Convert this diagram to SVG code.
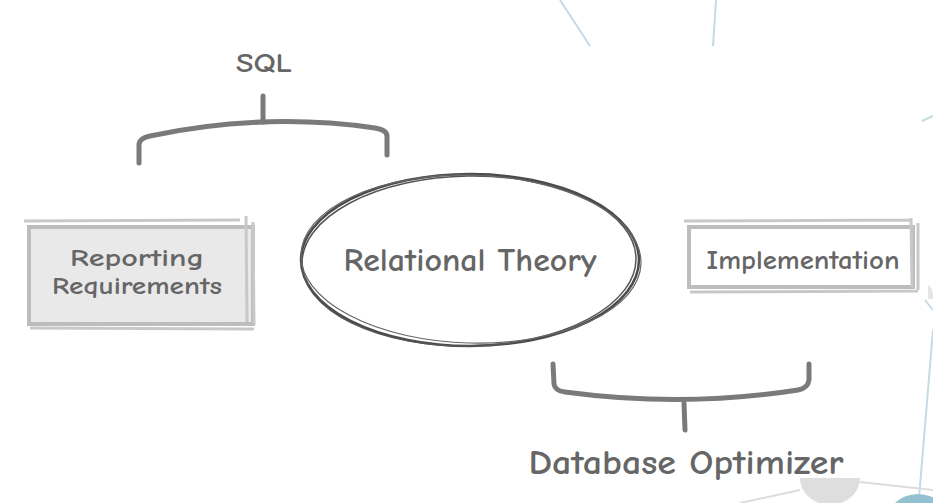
<svg xmlns="http://www.w3.org/2000/svg" width="933" height="503" viewBox="0 0 933 503">
<style>
  .lbl { font-family: "Comic Neue", "Open Sans", "DejaVu Sans", sans-serif; fill: #666666; text-anchor: middle; font-weight: bold; }
  .brace { fill: none; stroke: #7a7a7a; stroke-width: 5; stroke-linecap: round; stroke-linejoin: round; }
  .bg { fill: none; stroke: #c4dbe4; stroke-width: 2; }
  .bgg { fill: none; stroke: #dcdcdc; stroke-width: 2; }
  .box { stroke: #bdbdbd; stroke-width: 4; }
  .boxline { fill: none; stroke: #c8c8c8; stroke-width: 3; }
</style>
<rect width="933" height="503" fill="#ffffff"/>
<g id="background">
  <line class="bg" x1="560" y1="0" x2="590" y2="46"/>
  <line class="bg" x1="716" y1="0" x2="713" y2="46"/>
  <line class="bg" x1="922" y1="121" x2="933" y2="116"/>
  <line class="bg" x1="925" y1="300" x2="933" y2="310"/>
  <line class="bg" x1="933" y1="330" x2="919" y2="498"/>
  <line class="bgg" x1="860" y1="482" x2="933" y2="490"/>
  <line class="bgg" x1="800" y1="490" x2="740" y2="503"/>
  <path d="M800,478 L860,478 A30,27 0 0 1 800,478 Z" fill="#dedede"/>
  <circle cx="918" cy="528" r="34" fill="#92c1d2"/>
  <path d="M928,285 q6,4 5,14 l-5,0 z" fill="#e6e6e6"/>
</g>
<g id="connectors">
  <path class="brace" d="M139,163 L139,144 Q140,138 150,136 Q263,112 375,128 Q387,130 387,136 L387,155"/>
  <path class="brace" d="M263,122 L263,96"/>
  <path class="brace" d="M553,364 L554,384 Q555,391 565,392 Q684,408 798,390 Q808,388 809,380 L809,364"/>
  <path class="brace" d="M684,403 L685,430"/>
</g>
<g id="sql-label">
  <text class="lbl" x="264" y="72" font-size="27" textLength="56" lengthAdjust="spacingAndGlyphs">SQL</text>
</g>
<g id="reporting-requirements">
  <rect class="box" x="29" y="227" width="224" height="97" fill="#e9e9e9"/>
  <path class="boxline" d="M24,221 L240,220 M246,216 L247,322 M253,222 L254,325 M30,328 L254,329"/>
  <text class="lbl" x="137" y="266" font-size="24" textLength="134" lengthAdjust="spacingAndGlyphs">Reporting</text>
  <text class="lbl" x="137" y="294" font-size="24" textLength="170" lengthAdjust="spacingAndGlyphs">Requirements</text>
</g>
<g id="relational-theory">
  <ellipse cx="470" cy="260" rx="169" ry="86" fill="#ffffff" stroke="#4a4a4a" stroke-width="2.5"/>
  <ellipse cx="469" cy="261" rx="167" ry="85" fill="none" stroke="#555" stroke-width="1.5" transform="rotate(-1 470 260)"/>
  <ellipse cx="471" cy="259" rx="170" ry="84" fill="none" stroke="#666" stroke-width="1.2" transform="rotate(1.5 470 260)"/>
  <text class="lbl" x="470" y="271" font-size="32" textLength="253" lengthAdjust="spacingAndGlyphs">Relational Theory</text>
</g>
<g id="implementation">
  <rect class="box" x="689" y="227" width="224" height="60" fill="#ffffff"/>
  <path class="boxline" d="M684,221 L910,220 M911,218 L912,287 M918,223 L918,290 M690,292 L918,291"/>
  <text class="lbl" x="803" y="269" font-size="27" textLength="193" lengthAdjust="spacingAndGlyphs">Implementation</text>
</g>
<g id="database-optimizer-label">
  <text class="lbl" x="686" y="474" font-size="34" textLength="315" lengthAdjust="spacingAndGlyphs">Database Optimizer</text>
</g>
</svg>
